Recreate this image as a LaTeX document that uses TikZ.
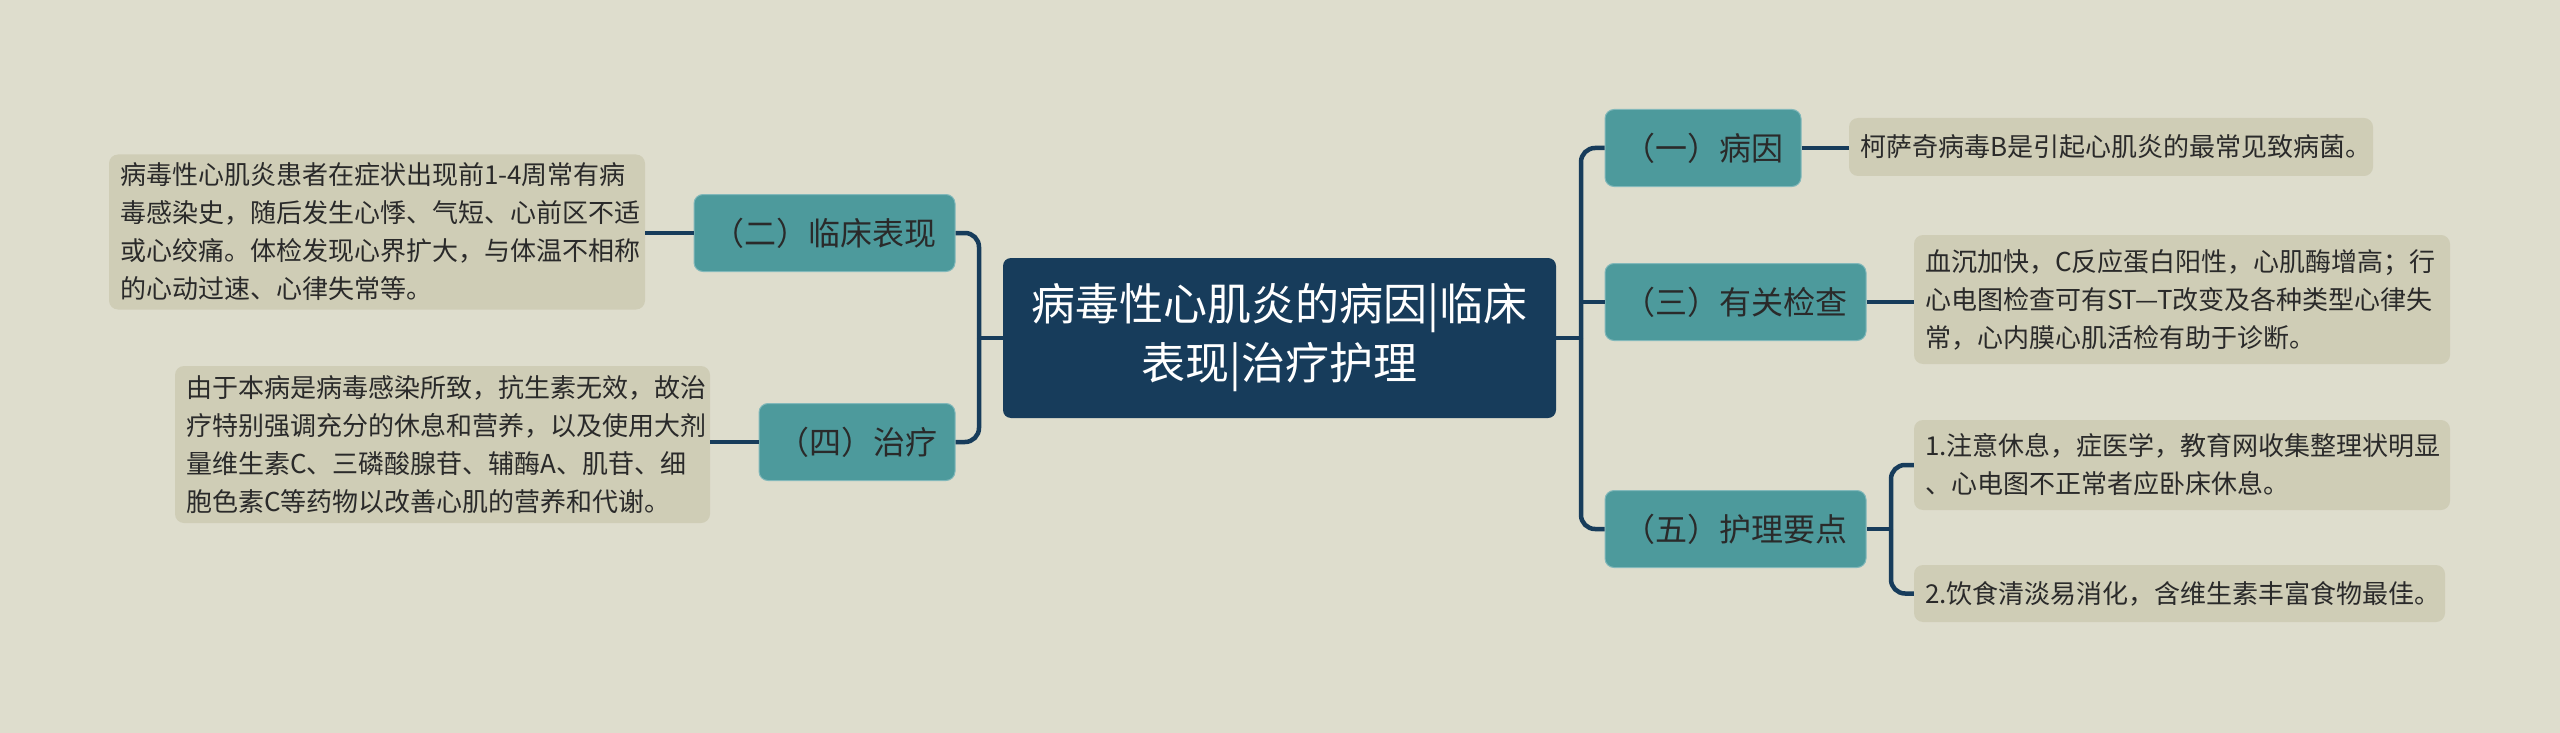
\documentclass[tikz,border=0pt]{standalone}
\usepackage{fontspec}
\setmainfont{Noto Sans CJK SC}
\definecolor{bg}{HTML}{DEDDCD}
\definecolor{navy}{HTML}{173C5B}
\definecolor{teal}{HTML}{4D9A9C}
\definecolor{tfill}{HTML}{CFCDB6}
\definecolor{ink}{HTML}{2A2A2A}
\begin{document}
\begin{tikzpicture}[x=1pt,y=-1pt,
  central/.style={fill=navy, text=white, rounded corners=8pt, minimum width=553pt, minimum height=160pt, align=center, font=\fontsize{44}{59}\selectfont, inner sep=0pt},
  branch/.style={fill=teal, draw=teal!70!white, line width=1pt, text=ink, rounded corners=9pt, minimum height=77pt, font=\fontsize{32}{38}\selectfont, inner sep=0pt},
  tbox/.style={fill=tfill, text=ink, rounded corners=9pt, align=left, font=\fontsize{26}{38}\selectfont, inner xsep=11pt, inner ysep=0pt},
  conn/.style={draw=navy, line width=4.5pt},
]
\fill[bg] (0,0) rectangle (2560,733);
\useasboundingbox (0,0) rectangle (2560,733);

\node[central] (c) at (1279.5,338) {病毒性心肌炎的病因|临床\\表现|治疗护理};

\node[branch, minimum width=261pt] (b2) at (824.5,233) {（二）临床表现};
\node[branch, minimum width=196pt] (b4) at (857,442) {（四）治疗};
\node[branch, minimum width=196pt] (b1) at (1703,148) {（一）病因};
\node[branch, minimum width=261pt] (b3) at (1735.5,302) {（三）有关检查};
\node[branch, minimum width=261pt] (b5) at (1735.5,529) {（五）护理要点};

\node[tbox, text width=514pt, minimum height=155pt] (t2) at (377,232) {病毒性心肌炎患者在症状出现前1-4周常有病\\毒感染史，随后发生心悸、气短、心前区不适\\或心绞痛。体检发现心界扩大，与体温不相称\\的心动过速、心律失常等。};
\node[tbox, text width=513pt, minimum height=157pt] (t4) at (442.5,444.5) {由于本病是病毒感染所致，抗生素无效，故治\\疗特别强调充分的休息和营养，以及使用大剂\\量维生素C、三磷酸腺苷、辅酶A、肌苷、细\\胞色素C等药物以改善心肌的营养和代谢。};
\node[tbox, text width=502pt, minimum height=58pt] (t1) at (2111,147) {柯萨奇病毒B是引起心肌炎的最常见致病菌。};
\node[tbox, text width=514pt, minimum height=129pt] (t3) at (2182,299.5) {血沉加快，C反应蛋白阳性，心肌酶增高；行\\心电图检查可有ST—T改变及各种类型心律失\\常，心内膜心肌活检有助于诊断。};
\node[tbox, text width=514pt, minimum height=90pt] (t5a) at (2182,465) {1.注意休息，症医学，教育网收集整理状明显\\、心电图不正常者应卧床休息。};
\node[tbox, text width=509pt, minimum height=57pt] (t5b) at (2179.5,593.5) {2.饮食清淡易消化，含维生素丰富食物最佳。};

\coordinate (jr) at (1581,338);
\coordinate (jl) at (979,338);
\coordinate (j5) at (1891,529);

\draw[conn] (c.east) -- (jr);
\draw[conn, rounded corners=14pt] (jr) |- (b1.west);
\draw[conn] (jr) |- (b3.west);
\draw[conn, rounded corners=14pt] (jr) |- (b5.west);

\draw[conn] (c.west) -- (jl);
\draw[conn, rounded corners=14pt] (jl) |- (b2.east);
\draw[conn, rounded corners=14pt] (jl) |- (b4.east);

\draw[conn] (b2.west) -- (b2.west -| t2.east);
\draw[conn] (b4.west) -- (b4.west -| t4.east);
\draw[conn] (b1.east) -- (b1.east -| t1.west);
\draw[conn] (b3.east) -- (b3.east -| t3.west);

\draw[conn] (b5.east) -- (j5);
\draw[conn, rounded corners=14pt] (j5) |- (t5a.west);
\draw[conn, rounded corners=14pt] (j5) |- (t5b.west);
\end{tikzpicture}
\end{document}
